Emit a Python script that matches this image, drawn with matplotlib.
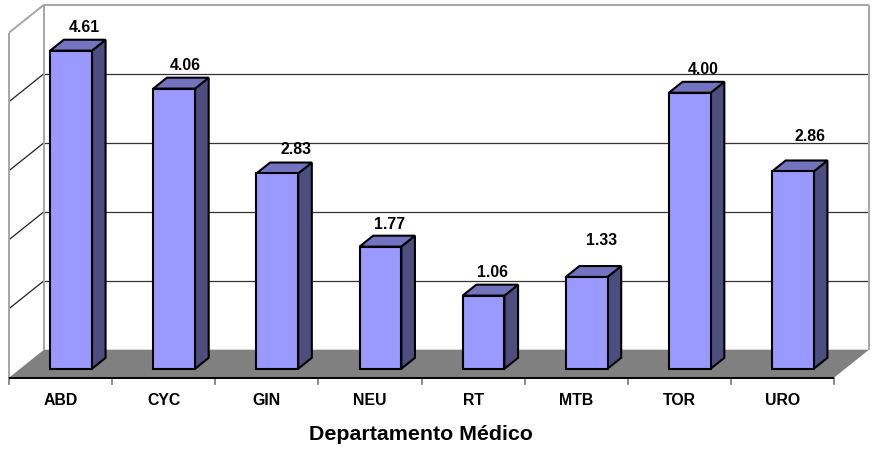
import matplotlib
matplotlib.use("Agg")
import matplotlib.pyplot as plt
from matplotlib.patches import Polygon

plt.rcParams['font.family'] = ['Liberation Sans', 'DejaVu Sans']

departamentos = ['ABD', 'CYC', 'GIN', 'NEU', 'RT', 'MTB', 'TOR', 'URO']
valores = [4.61, 4.06, 2.83, 1.77, 1.06, 1.33, 4.00, 2.86]
# shift of each value label from the bar's front top centre, in pixels
label_dx = [13, 10, 18, 8, 8, 14, 13, 16]
label_dy = [24, 24, 25, 23, 24, 37, 24, 36]

W, H = 872, 452
# front plane of the chart in pixels
left, right, bottom, top = 9, 834, 378.7, 33.7
ymax = 5
# full depth of the 3d box in data units
dx = 35 / ((right - left) / 8)
dy = 28 / ((bottom - top) / ymax)

GREY = '#a6a6a6'
FLOOR = '#808080'
FRONT = '#9999ff'
TOPC = '#7373bf'
SIDE = '#4d4d80'

fig = plt.figure(figsize=(W / 100, H / 100), dpi=100, facecolor='white')
ax = fig.add_axes([left / W, 1 - bottom / H, (right - left) / W, (bottom - top) / H])
ax.set_xlim(0, 8)
ax.set_ylim(0, ymax)
ax.axis('off')


def p(x, y, d):
    return (x + d * dx, y + d * dy)


def poly(pts, fc, lw=1.5, ec='black', z=3):
    ax.add_patch(Polygon(pts, closed=True, fc=fc, ec=ec, lw=lw, zorder=z,
                         clip_on=False, joinstyle='miter'))


def line(a, b, color, lw=1.0, z=2):
    ax.plot([a[0], b[0]], [a[1], b[1]], color=color, lw=lw, zorder=z,
            clip_on=False, solid_capstyle='butt')


# floor
poly([p(0, 0, 0), p(8, 0, 0), p(8, 0, 1), p(0, 0, 1)], FLOOR, lw=0, ec='none', z=1)

# gridlines
for v in range(1, ymax):
    line(p(0, v, 0), p(0, v, 1), '#222222', 0.9)
    line(p(0, v, 1), p(8, v, 1), '#333333', 0.9)

# walls
line(p(0, 0, 0), p(0, ymax, 0), GREY, 1.4)
line(p(0, ymax, 0), p(0, ymax, 1), GREY, 1.4)
line(p(0, 0, 1), p(0, ymax, 1), GREY, 1.4)
line(p(0, ymax, 1), p(8, ymax, 1), GREY, 1.4)
line(p(8, 0, 1), p(8, ymax, 1), GREY, 1.4)
line(p(0, 0, 0), p(8, 0, 0), 'black', 1.4, z=2.5)

# x ticks
for i in range(9):
    ax.plot([i, i], [0, -6 / 69], color='#777777', lw=1.2, clip_on=False, zorder=2)

# bars
ancho = 0.405
d0, d1 = 0.32, 0.71
for i, v in enumerate(valores):
    x0 = i + 0.5 - ancho / 2 - 0.007
    x1 = x0 + ancho
    poly([p(x1, 0, d0), p(x1, 0, d1), p(x1, v, d1), p(x1, v, d0)], SIDE)
    poly([p(x0, v, d0), p(x1, v, d0), p(x1, v, d1), p(x0, v, d1)], TOPC)
    poly([p(x0, 0, d0), p(x1, 0, d0), p(x1, v, d0), p(x0, v, d0)], FRONT)
    ax.annotate('%.2f' % v, xy=p(i + 0.5, v, d0),
                xytext=(label_dx[i] * 0.72, label_dy[i] * 0.72), textcoords='offset points',
                ha='center', va='center', fontsize=11.4, fontweight='bold',
                color='black', zorder=5, annotation_clip=False)
    ax.annotate(departamentos[i], xy=(i + 0.5, 0), xytext=(0, -22 * 0.72),
                textcoords='offset points', ha='center', va='center', fontsize=11.4,
                fontweight='bold', color='black', annotation_clip=False)

fig.text(421 / W, 1 - 435 / H, 'Departamento Médico', ha='center', va='center',
         fontsize=15.4, fontweight='bold', color='black')

fig.savefig('out.png', dpi=100, facecolor='white')
